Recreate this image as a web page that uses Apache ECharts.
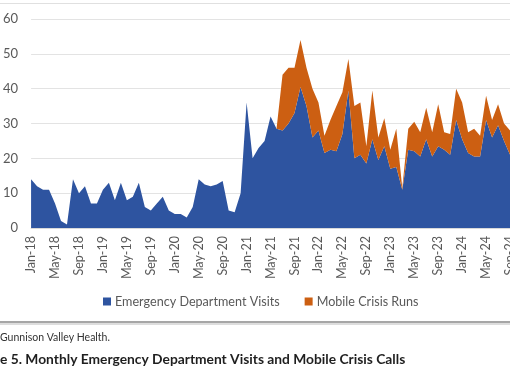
<!DOCTYPE html>
<html><head><meta charset="utf-8">
<script src="https://cdn.jsdelivr.net/npm/echarts@6/dist/echarts.min.js"></script>
<style>html,body{margin:0;padding:0;background:#fff;overflow:hidden;}#c{width:530px;height:382px;}</style>
</head><body><div id="c"></div>
<script>
var months = ["Jan-18","Feb-18","Mar-18","Apr-18","May-18","Jun-18","Jul-18","Aug-18","Sep-18","Oct-18","Nov-18","Dec-18",
"Jan-19","Feb-19","Mar-19","Apr-19","May-19","Jun-19","Jul-19","Aug-19","Sep-19","Oct-19","Nov-19","Dec-19",
"Jan-20","Feb-20","Mar-20","Apr-20","May-20","Jun-20","Jul-20","Aug-20","Sep-20","Oct-20","Nov-20","Dec-20",
"Jan-21","Feb-21","Mar-21","Apr-21","May-21","Jun-21","Jul-21","Aug-21","Sep-21","Oct-21","Nov-21","Dec-21",
"Jan-22","Feb-22","Mar-22","Apr-22","May-22","Jun-22","Jul-22","Aug-22","Sep-22","Oct-22","Nov-22","Dec-22",
"Jan-23","Feb-23","Mar-23","Apr-23","May-23","Jun-23","Jul-23","Aug-23","Sep-23","Oct-23","Nov-23","Dec-23",
"Jan-24","Feb-24","Mar-24","Apr-24","May-24","Jun-24","Jul-24","Aug-24","Sep-24","Oct-24","Nov-24","Dec-24"];
var edVisits = [14,12,11,11,7,2,1,14,10,12,7,7,
11,13,8,13,8,9,13,6,5,7,9,5,
4,4,3,6,14,12.5,12,12.5,13.5,5,4.5,10,
36,20,23,25,32,28.5,28,30,33,40.5,35,26,
28,21.5,22.5,22,27,39.5,20,21,18.5,25.5,19.5,23.5,
17,17.5,11,22.5,22,20.5,25.5,20.5,23.5,22.5,21,31,
25.5,21.5,20.5,20.5,31,26,29.5,25,21,20,22,21];
var crisisRuns = [0,0,0,0,0,0,0,0,0,0,0,0,
0,0,0,0,0,0,0,0,0,0,0,0,
0,0,0,0,0,0,0,0,0,0,0,0,
0,0,0,0,0,0,16,16,13,13.5,11,14,
8,5,8.5,13,12,9,15,15,5,14,6.5,8,
5.5,11,0.5,6,8.5,7,9,7,12,5,6,9,
10.5,6,8,6,7,5,6,5,7,6,7,6];
var yTicks = {min:0, max:60, interval:10};
var seriesNames = ["Emergency Department Visits","Mobile Crisis Runs"];
var sourceText = "Gunnison Valley Health.";
var titleText = "e 5. Monthly Emergency Department Visits and Mobile Crisis Calls";

var chart = echarts.init(document.getElementById('c'), null, {renderer:'canvas'});
var FONT = 'Lato';
chart.setOption({
  animation:false,
  grid:{left:30, top:19, right:2, bottom:154},
  legend:{
    data:seriesNames, top:290, left:98, itemWidth:8, itemHeight:8, itemGap:25,
    icon:'rect', textStyle:{fontFamily:FONT, fontSize:12.6, color:'#595959', padding:[0,0,0,-1]}
  },
  xAxis:{
    type:'category', data:months, boundaryGap:false,
    axisLine:{lineStyle:{color:'#D9D9D9'}},
    axisTick:{show:false},
    axisLabel:{rotate:90, interval:3, margin:8, fontFamily:FONT, fontSize:12.5, color:'#595959'}
  },
  yAxis:{
    type:'value', min:yTicks.min, max:yTicks.max, interval:yTicks.interval,
    axisLine:{show:false}, axisTick:{show:false},
    splitLine:{lineStyle:{color:'#E3E3E3', width:1}},
    axisLabel:{margin:13, fontFamily:FONT, fontSize:13, color:'#595959'}
  },
  series:[
    {name:seriesNames[0], type:'line', stack:'t', data:edVisits, showSymbol:false, symbol:'none',
     lineStyle:{width:0}, areaStyle:{color:'#2E54A0', opacity:1}, itemStyle:{color:'#2E54A0'}},
    {name:seriesNames[1], type:'line', stack:'t', data:crisisRuns, showSymbol:false, symbol:'none',
     lineStyle:{width:0}, areaStyle:{color:'#CC5F12', opacity:1}, itemStyle:{color:'#CC5F12'}}
  ],
  graphic:[
    {type:'line', shape:{x1:0,y1:3.5,x2:530,y2:3.5}, style:{stroke:'#E0E0E0', lineWidth:1}},
    {type:'rect', shape:{x:0,y:321,width:530,height:2}, style:{fill:'#A6A6A6'}},
    {type:'rect', shape:{x:0,y:323,width:530,height:2}, style:{fill:'#DDDDDD'}},
    {type:'text', left:0, top:332, style:{text:sourceText, fontFamily:FONT, fontSize:10.5, fill:'#333333'}},
    {type:'text', left:0, top:353, style:{text:titleText, fontFamily:FONT, fontSize:13.8, fontWeight:'bold', fill:'#1F1F1F'}}
  ]
});
</script></body></html>
